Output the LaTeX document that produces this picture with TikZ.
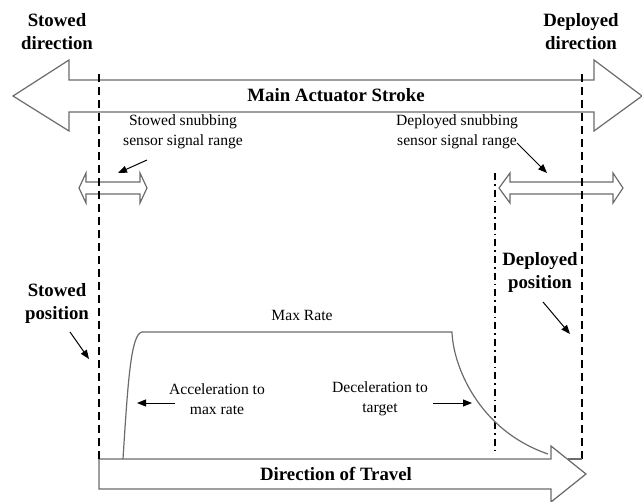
\documentclass[tikz,border=0pt]{standalone}
\usepackage{fontspec}
\setmainfont{Liberation Serif}
\usetikzlibrary{arrows.meta}
\begin{document}
\begin{tikzpicture}[x=1pt,y=-1pt,
  blockarrow/.style={draw=black!58, line width=1.2pt, fill=white, line join=miter},
  limitline/.style={draw=black, line width=1.8pt, dash pattern=on 8pt off 5pt},
  targetline/.style={draw=black, line width=1.6pt, dash pattern=on 7pt off 4pt on 1.6pt off 4pt},
  rateline/.style={draw=black!58, line width=1.2pt},
  pointer/.style={draw=black, line width=1pt, -{Triangle[length=9pt,width=7pt]}},
  headlabel/.style={font=\bfseries\fontsize{18.8}{23}\selectfont, align=center, inner sep=0pt},
  notelabel/.style={font=\fontsize{15.6}{20}\selectfont, align=center, inner sep=0pt}]
\useasboundingbox (0,0) rectangle (642,501);

% main actuator stroke (double block arrow)
\path[blockarrow] (13,96) -- (69,60) -- (69,80) -- (594,80) -- (594,60) -- (642,96)
  -- (594,131) -- (594,112) -- (69,112) -- (69,131) -- cycle;

% snubbing sensor signal ranges
\path[blockarrow] (79,188) -- (86,173) -- (86,182) -- (140,182) -- (140,173) -- (147,188)
  -- (140,203) -- (140,194) -- (86,194) -- (86,203) -- cycle;
\path[blockarrow] (499,188) -- (510,173) -- (510,182) -- (613,182) -- (613,173) -- (623,188)
  -- (613,203) -- (613,194) -- (510,194) -- (510,203) -- cycle;

% direction of travel
\path[blockarrow] (99,459) -- (551,459) -- (551,446) -- (586,474) -- (551,502)
  -- (551,489) -- (99,489) -- cycle;

% stowed and deployed limits, target position
\coordinate (stowtop) at (99,74);
\coordinate (stowbot) at (99,459);
\coordinate (deptop) at (582,74);
\coordinate (depbot) at (582,459);
\coordinate (tgttop) at (495,173);
\coordinate (tgtbot) at (495,453);
\draw[limitline] (stowtop) -- (stowbot);
\draw[limitline] (deptop) -- (depbot);
\draw[rateline] (depbot) -- (568,459);
\draw[targetline] (tgttop) -- (tgtbot);

% rate profile
\draw[rateline] (123,459) .. controls (128,380) and (131,334) .. (142,332) -- (452,332)
  .. controls (453,365) and (478,430) .. (548,454);

% labels
\node[headlabel] (stowdir) at (57,31.5) {Stowed\\direction};
\node[headlabel] (depdir) at (581,31.5) {Deployed\\direction};
\node[headlabel] (stroke) at (336,95) {Main Actuator Stroke};
\node[notelabel] (stowsnub) at (183,132) {Stowed snubbing\\sensor signal range};
\node[notelabel] (depsnub) at (457,132) {Deployed snubbing\\sensor signal range};
\node[headlabel] (stowpos) at (57,303.5) {Stowed\\position};
\node[headlabel] (deppos) at (540,272) {Deployed\\position};
\node[notelabel] (maxrate) at (302,315) {Max Rate};
\node[notelabel] (accel) at (217,399) {Acceleration to\\max rate};
\node[notelabel] (decel) at (380,399) {Deceleration to\\target};
\node[headlabel] (travel) at (336,474) {Direction of Travel};

% pointers
\coordinate (p1s) at (147,160); \coordinate (p1e) at (118,173);
\coordinate (p2s) at (517,143); \coordinate (p2e) at (547,173);
\coordinate (p3s) at (70,332);  \coordinate (p3e) at (89,359);
\coordinate (p4s) at (543,302); \coordinate (p4e) at (570,334);
\coordinate (p5s) at (175,403); \coordinate (p5e) at (137,403);
\coordinate (p6s) at (433,403); \coordinate (p6e) at (472,403);
\draw[pointer] (p1s) -- (p1e);
\draw[pointer] (p2s) -- (p2e);
\draw[pointer] (p3s) -- (p3e);
\draw[pointer] (p4s) -- (p4e);
\draw[pointer] (p5s) -- (p5e);
\draw[pointer] (p6s) -- (p6e);
\end{tikzpicture}
\end{document}
